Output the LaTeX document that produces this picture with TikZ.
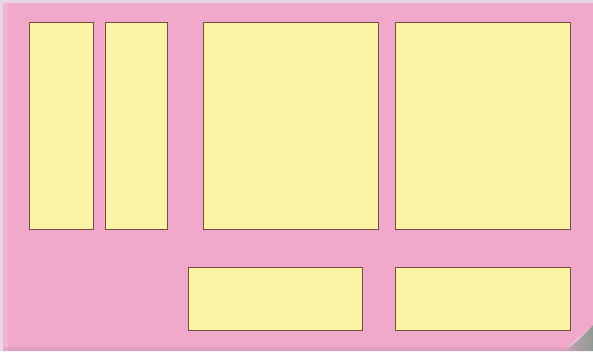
\documentclass[tikz,border=0pt]{standalone}
\begin{document}
\begin{tikzpicture}[x=1pt,y=-1pt,
  panel/.style={fill=panelyellow,draw=boxbrown,line width=0.8pt}]
\definecolor{pagepink}{HTML}{F0A9CA}
\definecolor{edgepink}{HTML}{F5B4D2}
\definecolor{lavender}{HTML}{E6D6EC}
\definecolor{panelyellow}{HTML}{FBF4A6}
\definecolor{boxbrown}{HTML}{7A4A3A}
\definecolor{curlgrey}{HTML}{8E9A94}
\useasboundingbox (0,0) rectangle (593,351);
\fill[lavender] (0,0) rectangle (593,351);
\fill[pagepink] (3,3) -- (593,3) -- (593,325) -- (564,351) -- (3,351) -- cycle;
\fill[edgepink] (3,3) rectangle (8,351);
\fill[pagepink!90!black,opacity=0.5] (3,347) rectangle (570,351);
\shade[left color=curlgrey!40!pagepink,right color=curlgrey] (564,351) .. controls (576,343) and (584,335) .. (593,325) -- (593,351) -- cycle;
\node[panel,minimum width=64pt,minimum height=207pt,anchor=north west,inner sep=0pt] (p1) at (29,22) {};
\node[panel,minimum width=62pt,minimum height=207pt,anchor=north west,inner sep=0pt] (p2) at (105,22) {};
\node[panel,minimum width=175pt,minimum height=207pt,anchor=north west,inner sep=0pt] (p3) at (203,22) {};
\node[panel,minimum width=175pt,minimum height=207pt,anchor=north west,inner sep=0pt] (p4) at (395,22) {};
\node[panel,minimum width=174pt,minimum height=63pt,anchor=north west,inner sep=0pt] (p5) at (188,267) {};
\node[panel,minimum width=175pt,minimum height=63pt,anchor=north west,inner sep=0pt] (p6) at (395,267) {};
\end{tikzpicture}
\end{document}
